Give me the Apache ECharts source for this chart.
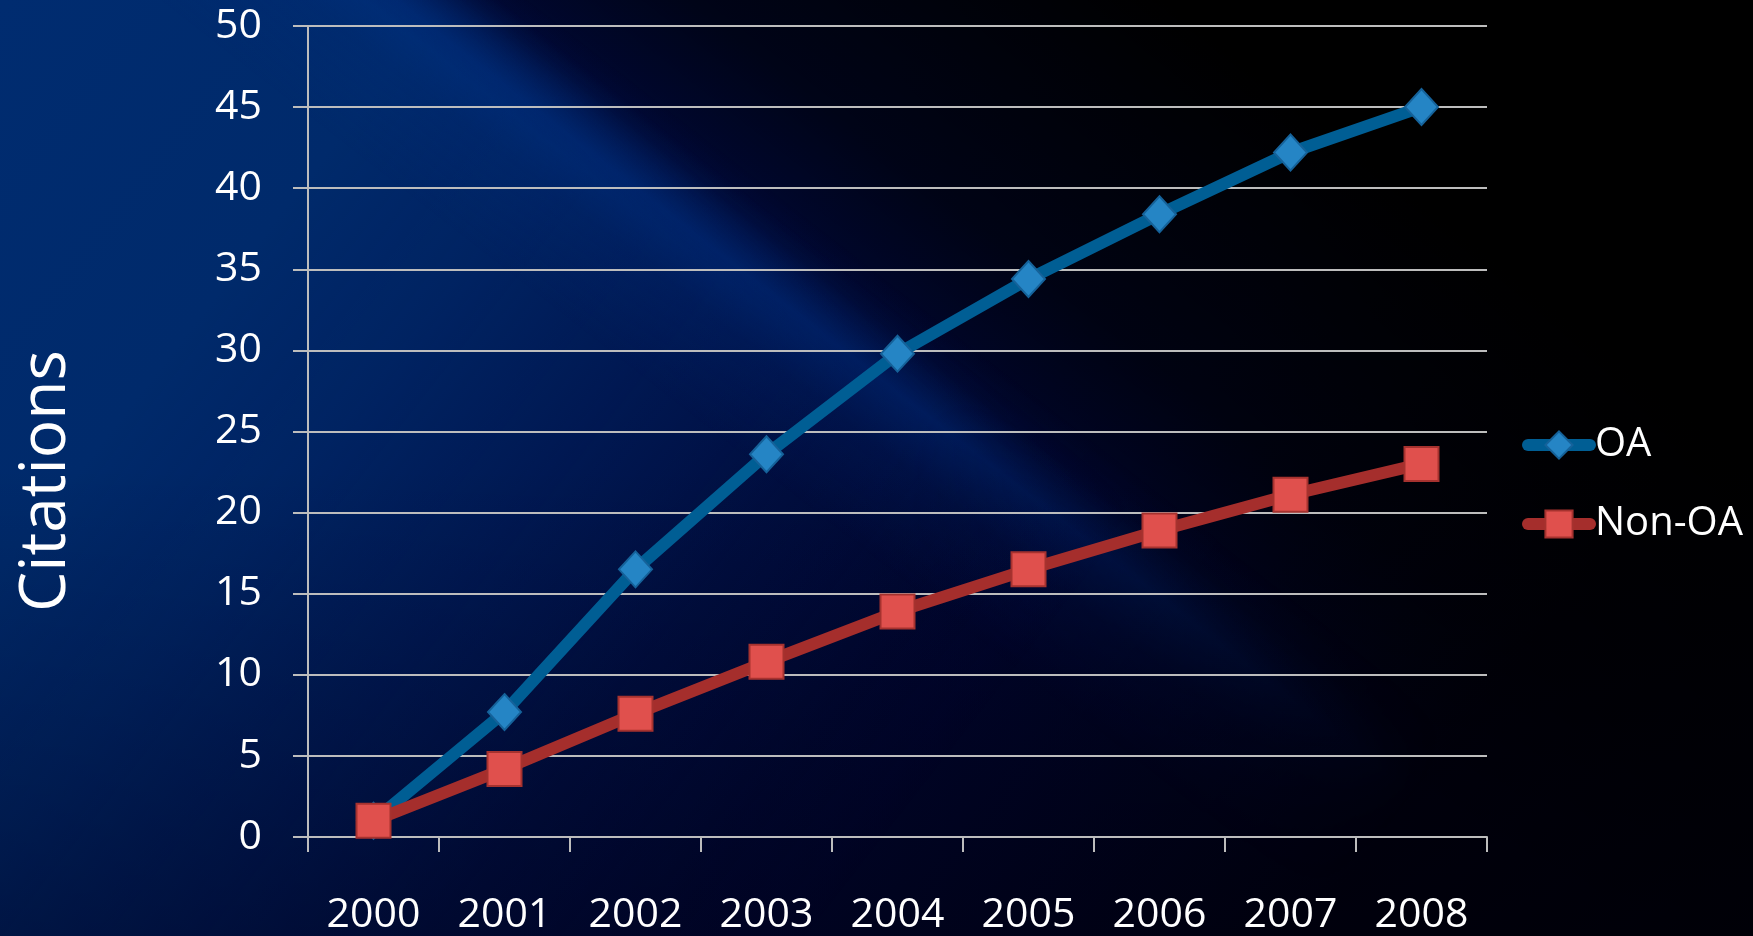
<!DOCTYPE html>
<html>
<head>
<meta charset="utf-8">
<title>Citations: OA vs Non-OA</title>
<script src="https://cdn.jsdelivr.net/npm/echarts@6/dist/echarts.min.js"></script>
<style>
  html, body { margin: 0; padding: 0; width: 1753px; height: 936px; overflow: hidden; background: #000; }
  .layer { position: absolute; left: 0; top: 0; width: 1753px; height: 936px; }
  /* dark navy base that falls off to black toward the lower right */
  #bgBase {
    background:
      linear-gradient(38deg, rgba(0,0,0,0) 54%, rgba(0,0,0,0.6) 64%, #000 80%),
      linear-gradient(128deg, #000a3e 0%, #00093a 38%, #00052a 60%, #000009 82%, #000 100%);
  }
  /* bright blue wedge in the upper left */
  #bgWedge {
    background: linear-gradient(128deg,
      rgba(0,44,112,1) 0%, rgba(0,42,107,1) 18%, rgba(0,40,105,0.85) 27%,
      rgba(0,36,100,0.58) 37%, rgba(0,30,92,0.28) 47%, rgba(0,24,84,0.08) 56%, rgba(0,20,80,0) 62%);
    -webkit-mask-image: linear-gradient(38deg, #000 0%, #000 53%, transparent 57.5%);
    mask-image: linear-gradient(38deg, #000 0%, #000 53%, transparent 57.5%);
  }
  /* soft light streak along the edge of the wedge */
  #bgStreak {
    background: linear-gradient(38deg,
      rgba(0,45,125,0) 46%, rgba(0,45,125,0.2) 51%, rgba(0,50,135,0.45) 54%,
      rgba(0,40,120,0.1) 56.5%, rgba(0,40,120,0) 58.5%);
    -webkit-mask-image: linear-gradient(128deg, #000 25%, #000 50%, transparent 82%);
    mask-image: linear-gradient(128deg, #000 25%, #000 50%, transparent 82%);
  }
  /* slight dimming toward the bottom edge */
  #bgShade {
    background: linear-gradient(to bottom, rgba(0,0,20,0) 50%, rgba(0,0,20,0.35) 100%);
  }
  #chart { position: absolute; left: 0; top: 0; width: 1753px; height: 936px; }
</style>
</head>
<body>
<div class="layer" id="bgBase"></div>
<div class="layer" id="bgWedge"></div>
<div class="layer" id="bgStreak"></div>
<div class="layer" id="bgShade"></div>
<div id="chart"></div>
<script>
// Average citations per year, open-access vs non-open-access articles
const years = ['2000', '2001', '2002', '2003', '2004', '2005', '2006', '2007', '2008'];
const oaCitations = [1.0, 7.7, 16.5, 23.6, 29.8, 34.4, 38.4, 42.2, 45.0];
const nonOaCitations = [1.0, 4.2, 7.6, 10.8, 13.9, 16.5, 18.9, 21.1, 23.0];
const yMin = 0;
const yMax = 50;
const yStep = 5;

const FONT = '"Open Sans", "Noto Sans", sans-serif';
const GRID_COLOR = '#bdbdbd';

const chart = echarts.init(document.getElementById('chart'), null, { renderer: 'canvas' });

chart.setOption({
  animation: false,
  backgroundColor: 'transparent',
  grid: { left: 308, top: 26, right: 266, bottom: 96, containLabel: false },
  legend: {
    orient: 'vertical',
    left: 1522,
    top: 425,
    padding: 0,
    itemWidth: 62,
    itemHeight: 34,
    itemGap: 39,
    data: ['OA', 'Non-OA'],
    lineStyle: { width: 12, cap: 'round' },
    textStyle: { color: '#ffffff', fontSize: 40, fontFamily: FONT, lineHeight: 34 }
  },
  graphic: [{
    type: 'text',
    x: 47,
    y: 481,
    rotation: Math.PI / 2,
    style: {
      text: 'Citations',
      fill: '#ffffff',
      fontSize: 64,
      fontFamily: FONT,
      align: 'center',
      verticalAlign: 'middle'
    }
  }],
  xAxis: {
    type: 'category',
    data: years,
    boundaryGap: true,
    axisLine: { show: true, lineStyle: { color: GRID_COLOR, width: 2 } },
    axisTick: { show: true, length: 15, lineStyle: { color: GRID_COLOR, width: 2 } },
    axisLabel: { color: '#ffffff', fontSize: 41, fontFamily: FONT, margin: 58 },
    splitLine: { show: false }
  },
  yAxis: {
    type: 'value',
    min: yMin,
    max: yMax,
    interval: yStep,
    axisLine: { show: true, lineStyle: { color: GRID_COLOR, width: 2 } },
    axisTick: { show: true, length: 15, lineStyle: { color: GRID_COLOR, width: 2 } },
    axisLabel: { color: '#ffffff', fontSize: 41, fontFamily: FONT, margin: 46 },
    splitLine: { show: true, lineStyle: { color: GRID_COLOR, width: 2 } }
  },
  series: [
    {
      name: 'OA',
      type: 'line',
      data: oaCitations,
      symbol: 'diamond',
      symbolSize: [33, 36],
      showAllSymbol: true,
      lineStyle: { color: '#005e94', width: 12, cap: 'round', join: 'round' },
      itemStyle: { color: '#2585c5', borderColor: '#15629a', borderWidth: 2 }
    },
    {
      name: 'Non-OA',
      type: 'line',
      data: nonOaCitations,
      symbol: 'rect',
      symbolSize: 34,
      showAllSymbol: true,
      lineStyle: { color: '#a52e2c', width: 12, cap: 'round', join: 'round' },
      itemStyle: { color: '#e0504d', borderColor: '#a6322f', borderWidth: 2 }
    }
  ]
});
</script>
</body>
</html>
